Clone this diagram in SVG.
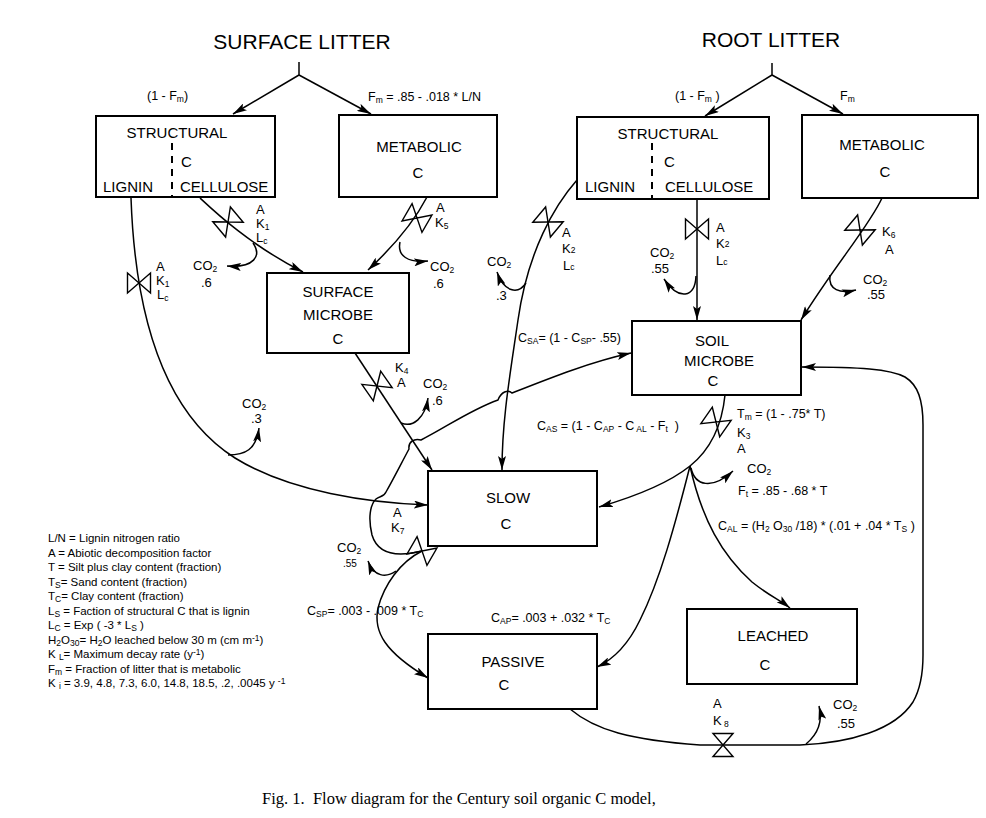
<svg xmlns="http://www.w3.org/2000/svg" width="986" height="818" viewBox="0 0 986 818">
<style>
text{font-family:"Liberation Sans",Arial,Helvetica,sans-serif;fill:#000}
.box{fill:#fff;stroke:#000;stroke-width:2}
.bt{font-size:15px;text-anchor:middle}
.bl{font-size:15px}
.ttl{font-size:21px;text-anchor:middle}
.lb{font-size:13px}
.fm{font-size:12.5px}
.lg{font-size:11.5px}
.s{font-size:8.5px}
.c{fill:none;stroke:#000;stroke-width:1.5}
.v{fill:none;stroke:#000;stroke-width:1.4}
.d{stroke:#000;stroke-width:2;stroke-dasharray:7 6}
.cap{font-family:"Liberation Serif","Times New Roman",serif;font-size:16.5px}
</style>
<defs>
<marker id="ah" viewBox="0 0 14 8" refX="14" refY="4" markerWidth="14" markerHeight="8" orient="auto" markerUnits="userSpaceOnUse">
<path d="M0,0 L14,4 L0,8 L3,4 Z" fill="#000"/>
</marker>
<path id="valve" class="v" d="M-11.5,-10 L11.5,10 L11.5,-10 L-11.5,10 Z"/>
</defs>
<rect width="986" height="818" fill="#fff"/>

<g id="title-surface"><text class="ttl" x="302" y="49">SURFACE LITTER</text></g>
<g id="title-root"><text class="ttl" x="771" y="47">ROOT LITTER</text></g>

<g id="surface-structural">
<rect class="box" x="96" y="116" width="179" height="81"/>
<text class="bt" x="177" y="138">STRUCTURAL</text>
<line class="d" x1="172" y1="143" x2="172" y2="197"/>
<text class="bl" x="181" y="167">C</text>
<text class="bl" x="103" y="192">LIGNIN</text>
<text class="bl" x="180" y="192">CELLULOSE</text>
</g>
<g id="surface-metabolic">
<rect class="box" x="339" y="115" width="158" height="82"/>
<text class="bt" x="419" y="152">METABOLIC</text>
<text class="bt" x="418" y="178">C</text>
</g>
<g id="root-structural">
<rect class="box" x="577" y="117" width="192" height="82"/>
<text class="bt" x="668" y="139">STRUCTURAL</text>
<line class="d" x1="652" y1="143" x2="652" y2="199"/>
<text class="bl" x="664" y="167">C</text>
<text class="bl" x="585" y="192">LIGNIN</text>
<text class="bl" x="665" y="192">CELLULOSE</text>
</g>
<g id="root-metabolic">
<rect class="box" x="802" y="115" width="176" height="83"/>
<text class="bt" x="882" y="150">METABOLIC</text>
<text class="bt" x="885" y="177">C</text>
</g>
<g id="surface-microbe">
<rect class="box" x="267" y="273" width="142" height="80"/>
<text class="bt" x="338" y="297">SURFACE</text>
<text class="bt" x="338" y="320">MICROBE</text>
<text class="bt" x="338" y="344">C</text>
</g>
<g id="soil-microbe">
<rect class="box" x="632" y="321" width="169" height="74"/>
<text class="bt" x="712" y="346">SOIL</text>
<text class="bt" x="719" y="366">MICROBE</text>
<text class="bt" x="713" y="386">C</text>
</g>
<g id="slow">
<rect class="box" x="428" y="471" width="169" height="75"/>
<text class="bt" x="508" y="503">SLOW</text>
<text class="bt" x="506" y="529">C</text>
</g>
<g id="passive">
<rect class="box" x="428" y="634" width="169" height="75"/>
<text class="bt" x="513" y="667">PASSIVE</text>
<text class="bt" x="504" y="690">C</text>
</g>
<g id="leached">
<rect class="box" x="687" y="609" width="170" height="75"/>
<text class="bt" x="773" y="641">LEACHED</text>
<text class="bt" x="765" y="670">C</text>
</g>

<g id="connectors">
<path class="c" d="M299,62 L299,75"/>
<path class="c" d="M299,75 L233,114" marker-end="url(#ah)"/>
<path class="c" d="M299,75 L371,114" marker-end="url(#ah)"/>
<path class="c" d="M772,63 L772,75"/>
<path class="c" d="M772,75 L705,116" marker-end="url(#ah)"/>
<path class="c" d="M772,75 L843,114" marker-end="url(#ah)"/>

<path class="c" d="M200,198 C215,212 250,245 303,272" marker-end="url(#ah)"/>
<use href="#valve" transform="translate(228,222) rotate(-40)"/>
<path class="c" d="M253,243 C262,256 254,268 227,266" marker-end="url(#ah)"/>

<path class="c" d="M427,197 C415,220 395,245 368,270" marker-end="url(#ah)"/>
<use href="#valve" transform="translate(417,218) rotate(30)"/>
<path class="c" d="M400,242 C397,256 408,263 428,261" marker-end="url(#ah)"/>

<path class="c" d="M131,198 C136,340 175,420 235,458 C290,492 370,503 428,505" marker-end="url(#ah)"/>
<use href="#valve" transform="translate(139,283) rotate(0)"/>
<path class="c" d="M228,455 C245,455 256,450 259,428" marker-end="url(#ah)"/>

<path class="c" d="M355,353 L432,470" marker-end="url(#ah)"/>
<use href="#valve" transform="translate(377,386) rotate(-35)"/>
<path class="c" d="M401,423 C413,428 425,418 428,398" marker-end="url(#ah)"/>

<path class="c" d="M577,180 C555,205 528,250 518,320 C510,375 502,420 502,470" marker-end="url(#ah)"/>
<use href="#valve" transform="translate(548,222) rotate(40)"/>
<path class="c" d="M526,283 C518,295 504,292 497,272" marker-end="url(#ah)"/>

<path class="c" d="M697,199 L697,320" marker-end="url(#ah)"/>
<use href="#valve" transform="translate(697,229) rotate(0)"/>
<path class="c" d="M696,276 C695,298 679,301 664,279" marker-end="url(#ah)"/>

<path class="c" d="M882,198 C870,225 835,265 801,320" marker-end="url(#ah)"/>
<use href="#valve" transform="translate(860,230) rotate(40)"/>
<path class="c" d="M830,275 C828,290 840,294 856,290" marker-end="url(#ah)"/>

<path class="c" d="M725,395 C722,425 710,450 690,466 C665,486 630,498 599,507" marker-end="url(#ah)"/>
<use href="#valve" transform="translate(716,422) rotate(35)"/>
<path class="c" d="M690,466 C675,525 660,580 640,620 C628,645 612,660 597,667" marker-end="url(#ah)"/>
<path class="c" d="M690,466 C702,520 722,555 752,582 C768,595 780,600 790,608" marker-end="url(#ah)"/>
<path class="c" d="M691,468 C695,486 712,490 733,471" marker-end="url(#ah)"/>

<path class="c" d="M422,551 C398,557 378,555 372,535 C368,518 370,505 376,499 C380,496 384,497 386,492 C394,478 402,462 409,449 C408,442 414,438 421,440 C445,428 470,410 498,400 C501,392 508,389 512,393 C550,378 590,362 631,353" marker-end="url(#ah)"/>
<path class="c" d="M422,551 C400,562 384,585 378,608 C373,632 385,652 428,678" marker-end="url(#ah)"/>
<use href="#valve" transform="translate(422,551) rotate(30)"/>
<path class="c" d="M396,571 C386,578 374,577 368,561" marker-end="url(#ah)"/>

<path class="c" d="M570,709 C595,730 630,740 700,745 L800,745 C850,743 895,730 913,702 C921,688 923,672 923,655 L923,425 C923,400 918,385 905,377 C890,369 860,367 802,367" marker-end="url(#ah)"/>
<use href="#valve" transform="translate(723,745) rotate(90)"/>
<path class="c" d="M806,744 C818,734 823,722 819,706" marker-end="url(#ah)"/>
</g>

<g id="edge-labels">
<text class="fm" x="147" y="100">(1 - F<tspan class="s" dy="2">m</tspan><tspan dy="-2">)</tspan></text>
<text class="fm" x="368" y="101">F<tspan class="s" dy="2">m</tspan><tspan dy="-2"> = .85 - .018 * L/N</tspan></text>
<text class="fm" x="675" y="100">(1 - F<tspan class="s" dy="2">m</tspan><tspan dy="-2"> )</tspan></text>
<text class="fm" x="840" y="100">F<tspan class="s" dy="2">m</tspan></text>

<text class="lb" x="256" y="214">A</text>
<text class="lb" x="256" y="228">K<tspan class="s" dy="2">1</tspan></text>
<text class="lb" x="256" y="242">L<tspan class="s" dy="2">c</tspan></text>
<text class="lb" x="193" y="270">CO<tspan class="s" dy="2">2</tspan></text>
<text class="lb" x="201" y="287">.6</text>

<text class="lb" x="436" y="212">A</text>
<text class="lb" x="435" y="227">K<tspan class="s" dy="2">5</tspan></text>
<text class="lb" x="430" y="271">CO<tspan class="s" dy="2">2</tspan></text>
<text class="lb" x="433" y="288">.6</text>

<text class="lb" x="156" y="271">A</text>
<text class="lb" x="156" y="285">K<tspan class="s" dy="2">1</tspan></text>
<text class="lb" x="157" y="299">L<tspan class="s" dy="2">c</tspan></text>
<text class="lb" x="242" y="408">CO<tspan class="s" dy="2">2</tspan></text>
<text class="lb" x="251" y="423">.3</text>

<text class="lb" x="395" y="372">K<tspan class="s" dy="2">4</tspan></text>
<text class="lb" x="397" y="387">A</text>
<text class="lb" x="423" y="388">CO<tspan class="s" dy="2">2</tspan></text>
<text class="lb" x="432" y="405">.6</text>

<text class="lb" x="562" y="237">A</text>
<text class="lb" x="562" y="253">K<tspan class="s" dy="0">2</tspan></text>
<text class="lb" x="563" y="270">L<tspan class="s" dy="0">c</tspan></text>
<text class="lb" x="487" y="266">CO<tspan class="s" dy="2">2</tspan></text>
<text class="lb" x="496" y="300">.3</text>

<text class="lb" x="716" y="232">A</text>
<text class="lb" x="716" y="248">K<tspan class="s" dy="-1">2</tspan></text>
<text class="lb" x="716" y="265">L<tspan class="s" dy="0">c</tspan></text>
<text class="lb" x="650" y="257">CO<tspan class="s" dy="2">2</tspan></text>
<text class="lb" x="651" y="273">.55</text>

<text class="lb" x="882" y="236">K<tspan class="s" dy="2">6</tspan></text>
<text class="lb" x="885" y="254">A</text>
<text class="lb" x="863" y="284">CO<tspan class="s" dy="2">2</tspan></text>
<text class="lb" x="867" y="299">.55</text>

<text class="fm" x="518" y="342">C<tspan class="s" dy="2">SA</tspan><tspan dy="-2">= (1 - C</tspan><tspan class="s" dy="2">SP</tspan><tspan dy="-2">- .55)</tspan></text>

<text class="fm" x="737" y="418">T<tspan class="s" dy="2">m</tspan><tspan dy="-2"> = (1 - .75* T)</tspan></text>
<text class="lb" x="737" y="437">K<tspan class="s" dy="2">3</tspan></text>
<text class="lb" x="737" y="453">A</text>
<text class="fm" x="537" y="430">C<tspan class="s" dy="2">AS</tspan><tspan dy="-2"> = (1 - C</tspan><tspan class="s" dy="2">AP</tspan><tspan dy="-2"> - C</tspan><tspan class="s" dy="2"> AL</tspan><tspan dy="-2"> - F</tspan><tspan class="s" dy="2">t</tspan><tspan dy="-2">&#160; )</tspan></text>
<text class="lb" x="747" y="473">CO<tspan class="s" dy="2">2</tspan></text>
<text class="fm" x="738" y="495">F<tspan class="s" dy="2">t</tspan><tspan dy="-2"> = .85 - .68 * T</tspan></text>
<text class="fm" x="718" y="530">C<tspan class="s" dy="2">AL</tspan><tspan dy="-2"> = (H</tspan><tspan class="s" dy="2">2</tspan><tspan dy="-2"> O</tspan><tspan class="s" dy="2">30</tspan><tspan dy="-2"> /18) * (.01 + .04 * T</tspan><tspan class="s" dy="2">S</tspan><tspan dy="-2"> )</tspan></text>

<text class="lb" x="393" y="517">A</text>
<text class="lb" x="391" y="532">K<tspan class="s" dy="2">7</tspan></text>
<text class="lb" x="337" y="552">CO<tspan class="s" dy="2">2</tspan></text>
<text class="fm" x="343" y="567" style="font-size:10px">.55</text>

<text class="fm" x="307" y="615">C<tspan class="s" dy="2">SP</tspan><tspan dy="-2">= .003 - .009 * T</tspan><tspan class="s" dy="2">C</tspan></text>
<text class="fm" x="491" y="622">C<tspan class="s" dy="2">AP</tspan><tspan dy="-2">= .003 + .032 * T</tspan><tspan class="s" dy="2">C</tspan></text>

<text class="lb" x="713" y="708">A</text>
<text class="lb" x="713" y="725">K<tspan class="s" dy="2"> 8</tspan></text>
<text class="lb" x="833" y="709">CO<tspan class="s" dy="2">2</tspan></text>
<text class="lb" x="837" y="728">.55</text>
</g>

<g id="legend">
<text class="lg" x="48" y="542">L/N = Lignin nitrogen ratio</text>
<text class="lg" x="48" y="556.5">A = Abiotic decomposition factor</text>
<text class="lg" x="48" y="571">T = Silt plus clay content (fraction)</text>
<text class="lg" x="48" y="585.5">T<tspan class="s" dy="2">S</tspan><tspan dy="-2">= Sand content (fraction)</tspan></text>
<text class="lg" x="48" y="600">T<tspan class="s" dy="2">C</tspan><tspan dy="-2">= Clay content (fraction)</tspan></text>
<text class="lg" x="48" y="614.5">L<tspan class="s" dy="2">S</tspan><tspan dy="-2"> = Faction of structural C that is lignin</tspan></text>
<text class="lg" x="48" y="629">L<tspan class="s" dy="2">C</tspan><tspan dy="-2"> = Exp ( -3 * L</tspan><tspan class="s" dy="2">S</tspan><tspan dy="-2"> )</tspan></text>
<text class="lg" x="48" y="643.5">H<tspan class="s" dy="2">2</tspan><tspan dy="-2">O</tspan><tspan class="s" dy="2">30</tspan><tspan dy="-2">= H</tspan><tspan class="s" dy="2">2</tspan><tspan dy="-2">O leached below 30 m (cm m</tspan><tspan class="s" dy="-3">-1</tspan><tspan dy="3">)</tspan></text>
<text class="lg" x="48" y="658">K <tspan class="s" dy="2">L</tspan><tspan dy="-2">= Maximum decay rate (y</tspan><tspan class="s" dy="-3">-1</tspan><tspan dy="3">)</tspan></text>
<text class="lg" x="48" y="672.5">F<tspan class="s" dy="2">m</tspan><tspan dy="-2"> = Fraction of litter that is metabolic</tspan></text>
<text class="lg" x="48" y="687">K <tspan class="s" dy="2">i</tspan><tspan dy="-2"> = 3.9, 4.8, 7.3, 6.0, 14.8, 18.5, .2, .0045 y </tspan><tspan class="s" dy="-3">-1</tspan></text>
</g>

<g id="caption">
<text class="cap" x="262" y="804">Fig. 1.&#160; Flow diagram for the Century soil organic C model,</text>
</g>
</svg>
